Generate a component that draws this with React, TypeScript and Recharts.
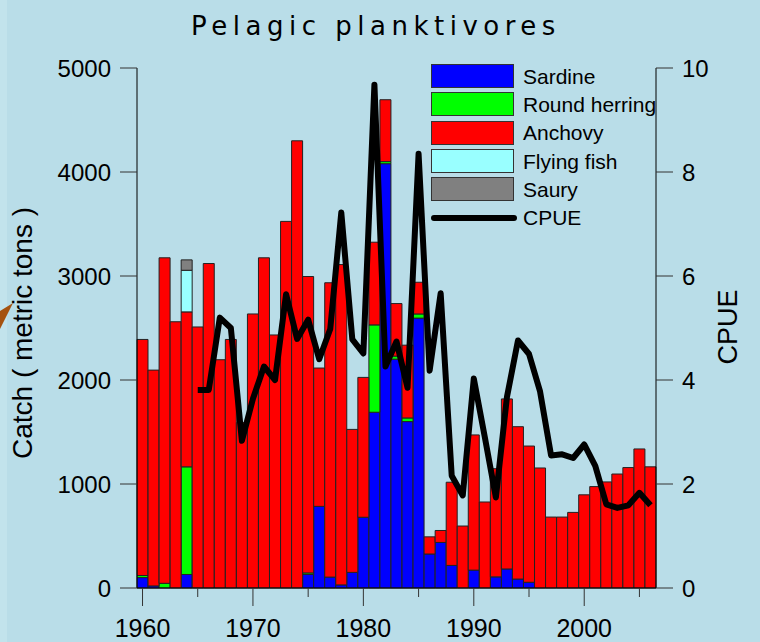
import React from 'react';
import { ComposedChart, Bar, Line, XAxis, YAxis } from 'recharts';

const years = Array.from({ length: 47 }, (_, i) => 1960 + i);

// catch by species, metric tons (1960-2006)
const sardine = [
  100, 20, 0, 0, 130, 0, 0, 0, 0, 0,
  0, 0, 0, 0, 0, 130, 785, 105, 30, 150,
  680, 1690, 4080, 2200, 1600, 2595, 327, 438, 217, 0,
  172, 0, 107, 183, 86, 55, 0, 0, 0, 0,
  0, 0, 0, 0, 0, 0, 0,
];
const roundHerring = [
  20, 0, 45, 0, 1035, 0, 0, 0, 0, 0,
  0, 0, 0, 0, 0, 15, 0, 0, 0, 0,
  0, 840, 20, 30, 35, 40, 0, 0, 0, 0,
  0, 0, 0, 0, 0, 0, 0, 0, 0, 0,
  0, 0, 0, 0, 0, 0, 0,
];
const anchovy = [
  2270, 2075, 3130, 2560, 1490, 2510, 3120, 2195, 2390, 1590,
  2635, 3175, 2433, 3525, 4300, 2850, 1330, 2830, 3080, 1375,
  1345, 795, 595, 505, 700, 305, 165, 115, 800, 596,
  1300, 827, 1040, 1635, 1465, 1310, 1154, 682, 682, 727,
  896, 975, 1020, 1096, 1158, 1337, 1165,
];
const flyingFish = [0, 0, 0, 0, 400];
const saury = [0, 0, 0, 0, 100];
const cpue = [
  null, null, null, null, null, 3.81, 3.81, 5.2, 5.0, 2.83,
  3.64, 4.26, 4.0, 5.65, 4.79, 5.16, 4.4, 4.98, 7.22, 4.78,
  4.51, 9.68, 4.26, 4.74, 3.85, 8.35, 4.18, 5.67, 2.16, 1.78,
  4.03, 2.9, 1.74, 3.67, 4.76, 4.5, 3.78, 2.55, 2.57, 2.5,
  2.76, 2.35, 1.61, 1.54, 1.59, 1.83, 1.59,
];

const leftTicks = [0, 1000, 2000, 3000, 4000, 5000];
const rightTicks = [0, 2, 4, 6, 8, 10];

const data = years.map((year, i) => ({
  year,
  sardine: sardine[i],
  roundHerring: roundHerring[i],
  anchovy: anchovy[i],
  flyingFish: flyingFish[i] || 0,
  saury: saury[i] || 0,
  cpue: cpue[i],
}));

const SERIES = [
  { key: 'sardine', name: 'Sardine', color: '#0000ff' },
  { key: 'roundHerring', name: 'Round herring', color: '#00ff00' },
  { key: 'anchovy', name: 'Anchovy', color: '#ff0000' },
  { key: 'flyingFish', name: 'Flying fish', color: '#99ffff' },
  { key: 'saury', name: 'Saury', color: '#808080' },
];

const BG = '#b9dde8';
const FONT = '"Liberation Sans", Arial, sans-serif';

const YearTick = (props: any) => {
  const { x, y, payload } = props;
  const yr = Number(payload.value);
  if (yr % 5 !== 0) return null;
  const major = yr % 10 === 0;
  return (
    <g>
      <line x1={x} x2={x} y1={y} y2={y + (major ? 18 : 9)} stroke="#333" strokeWidth={1} />
      {major && (
        <text x={x} y={y + 49} textAnchor="middle" fontSize={25} fontFamily={FONT} fill="#000">
          {yr}
        </text>
      )}
    </g>
  );
};

// legend drawn as a plain overlay so it doesn't eat into the plot area
const ChartLegend = () => (
  <div style={{ position: 'absolute', left: 431, top: 62, fontFamily: FONT, fontSize: 21, color: '#000' }}>
    {SERIES.map((s) => (
      <div key={s.key} style={{ display: 'flex', alignItems: 'center', height: 28.33 }}>
        <div style={{ width: 81, height: 22, background: s.color, border: '1px solid #333' }} />
        <span style={{ marginLeft: 9, lineHeight: '21px', whiteSpace: 'nowrap' }}>{s.name}</span>
      </div>
    ))}
    <div style={{ display: 'flex', alignItems: 'center', height: 28.33 }}>
      <div style={{ width: 86, height: 6, background: '#000', borderRadius: 3 }} />
      <span style={{ marginLeft: 6, lineHeight: '21px' }}>CPUE</span>
    </div>
  </div>
);

export default function App() {
  return (
    <div style={{ position: 'absolute', left: 0, top: 0, width: 760, height: 642, background: BG, overflow: 'hidden' }}>
      <div style={{ position: 'absolute', left: 0, top: 0, width: 7, height: 642, background: '#c2e3ec' }} />
      <ComposedChart
        width={760}
        height={642}
        data={data}
        margin={{ top: 68, right: 44, bottom: 0, left: 0 }}
        barCategoryGap={0}
        style={{ position: 'absolute', left: 0, top: 0 }}
      >
        <XAxis
          dataKey="year"
          height={54}
          interval={0}
          tickLine={false}
          tickSize={0}
          tickMargin={0}
          tick={<YearTick />}
          axisLine={{ stroke: '#000' }}
        />
        <YAxis
          yAxisId="left"
          width={137}
          domain={[0, 5000]}
          ticks={leftTicks}
          tickSize={17}
          tickMargin={9}
          tickLine={{ stroke: '#333' }}
          axisLine={{ stroke: '#000' }}
          tick={{ fontSize: 24, fill: '#000', fontFamily: FONT }}
        />
        <YAxis
          yAxisId="right"
          orientation="right"
          width={60}
          domain={[0, 10]}
          ticks={rightTicks}
          tickSize={17}
          tickMargin={9}
          tickLine={{ stroke: '#333' }}
          axisLine={{ stroke: '#000' }}
          tick={{ fontSize: 24, fill: '#000', fontFamily: FONT, textAnchor: 'start' }}
        />
        {SERIES.map((s) => (
          <Bar
            key={s.key}
            yAxisId="left"
            dataKey={s.key}
            name={s.name}
            stackId="catch"
            fill={s.color}
            stroke="#222"
            strokeWidth={1}
            isAnimationActive={false}
          />
        ))}
        <Line
          yAxisId="right"
          dataKey="cpue"
          name="CPUE"
          stroke="#000"
          strokeWidth={6}
          strokeLinejoin="round"
          dot={false}
          activeDot={false}
          isAnimationActive={false}
        />
      </ComposedChart>
      <ChartLegend />
      <svg width={760} height={642} style={{ position: 'absolute', left: 0, top: 0, pointerEvents: 'none' }}>
        <text x={376} y={35} textAnchor="middle" fontSize={26} letterSpacing={5.5} fontFamily='"DejaVu Sans", Verdana, sans-serif' fill="#000">
          Pelagic planktivores
        </text>
        <text
          transform="translate(32, 333) rotate(-90)"
          textAnchor="middle"
          fontSize={28}
          fontFamily={FONT}
          fill="#000"
        >
          Catch ( metric tons )
        </text>
        <text
          transform="translate(737, 327) rotate(-90)"
          textAnchor="middle"
          fontSize={27}
          fontFamily={FONT}
          fill="#000"
        >
          CPUE
        </text>
        <polygon points="0,311 13,303 0,329" fill="#a5520f" />
      </svg>
    </div>
  );
}
